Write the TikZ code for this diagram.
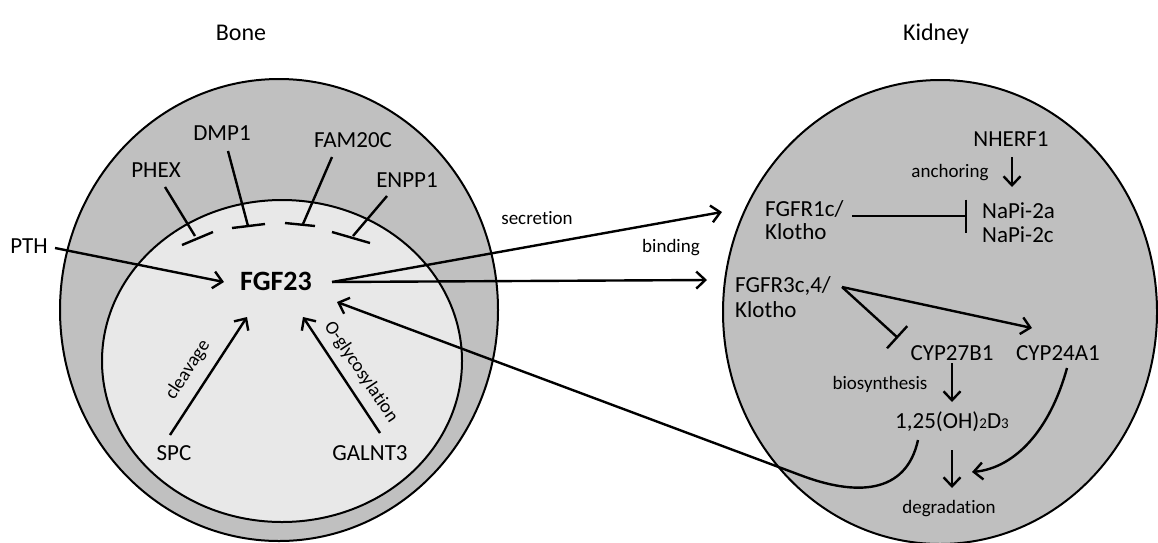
\documentclass[tikz,border=0pt]{standalone}
\usepackage{fontspec}
\setmainfont[Ligatures={NoCommon}]{Carlito}
\usetikzlibrary{arrows.meta}
\definecolor{outerg}{HTML}{C0C0C0}
\definecolor{innerg}{HTML}{E8E8E8}
\definecolor{kidg}{HTML}{BFBFBF}
\begin{document}
\begin{tikzpicture}[x=1pt,y=-1pt,
  lbl/.style={font=\fontsize{23}{26}\selectfont, inner sep=0pt, anchor=base},
  sm/.style={font=\fontsize{19}{22}\selectfont, inner sep=0pt, anchor=base},
  conn/.style={line width=2.4pt},
  arr/.style={conn, -{Straight Barb[length=9pt,width=17pt,line width=2.4pt]}},
  inh/.style={conn, -{Bar[width=33pt,line width=2.4pt]}},
  rim/.style={line width=2pt},
]
\useasboundingbox (0,0) rectangle (1158,542);

% compartments
\draw[rim, fill=outerg] (279,310) ellipse [x radius=219pt, y radius=231pt];
\draw[rim, fill=innerg] (282,361) ellipse [x radius=180pt, y radius=161pt];
\draw[rim, fill=kidg] (940,312) ellipse [x radius=217pt, y radius=232pt];

% titles
\node[lbl, font=\fontsize{24}{26}\selectfont] (bone) at (241,40) {Bone};
\node[lbl, font=\fontsize{24}{26}\selectfont] (kidney) at (936,40) {Kidney};

% bone labels
\node[lbl] (phex) at (156,177) {PHEX};
\node[lbl] (dmp) at (222,140) {DMP1};
\node[lbl] (fam) at (353,147) {FAM20C};
\node[lbl] (enpp) at (407,187) {ENPP1};
\node[lbl] (pth) at (29,253) {PTH};
\node[font=\fontsize{28}{30}\selectfont\bfseries, inner sep=0pt, anchor=base] (fgf) at (276,290) {FGF23};
\node[lbl] (spc) at (174,460) {SPC};
\node[lbl] (galnt) at (370,460) {GALNT3};
\node[sm, anchor=center, rotate=57] (clv) at (188,370) {cleavage};
\node[sm, anchor=center, rotate=-56] (oglc) at (361,372) {O-glycosylation};

% inhibitor bars at the membrane
\coordinate (bPa) at (182,245); \coordinate (bPb) at (213,232); \coordinate (bP) at (195,236);
\coordinate (bDa) at (232,228); \coordinate (bDb) at (265,224); \coordinate (bD) at (248,226);
\coordinate (bFa) at (285,223); \coordinate (bFb) at (315,226); \coordinate (bF) at (303,224);
\coordinate (bEa) at (332,232); \coordinate (bEb) at (370,243); \coordinate (bE) at (353,236);
\coordinate (sP) at (165,187); \coordinate (sD) at (228,151);
\coordinate (sF) at (332,157); \coordinate (sE) at (387,196);
\draw[conn] (sP) -- (bP);  \draw[conn] (bPa) -- (bPb);
\draw[conn] (sD) -- (bD);  \draw[conn] (bDa) -- (bDb);
\draw[conn] (sF) -- (bF);  \draw[conn] (bFa) -- (bFb);
\draw[conn] (sE) -- (bE);  \draw[conn] (bEa) -- (bEb);

% arrows in bone
\coordinate (pthE) at (55,248);
\coordinate (fgfW) at (224,282);
\coordinate (fgfE) at (332,282);
\coordinate (fgfS1) at (247,317);
\coordinate (fgfS2) at (303,317);
\coordinate (fgfSE) at (337,302);
\coordinate (spcN) at (170,435);
\coordinate (galN) at (380,433);
\draw[arr] (pthE) -- (fgfW);
\draw[arr] (spcN) -- (fgfS1);
\draw[arr] (galN) -- (fgfS2);

% kidney labels
\node[lbl] (nherf) at (1011,146) {NHERF1};
\node[sm] (anch) at (950,177) {anchoring};
\node[lbl, anchor=base west] (r1a) at (765,216) {FGFR1c/};
\node[lbl, anchor=base west] (r1b) at (765,239) {Klotho};
\node[lbl, anchor=base west] (na) at (982,218) {NaPi-2a};
\node[lbl, anchor=base west] (nc) at (982,242) {NaPi-2c};
\node[lbl, anchor=base west] (r3a) at (735,292) {FGFR3c,4/};
\node[lbl, anchor=base west] (r3b) at (735,317) {Klotho};
\node[lbl] (c27) at (952,360) {CYP27B1};
\node[lbl] (c24) at (1058,360) {CYP24A1};
\node[sm] (bios) at (880,389) {biosynthesis};
\node[lbl] (d3) at (952,428) {1,25(OH){\fontsize{15}{15}\selectfont 2}D{\fontsize{15}{15}\selectfont 3}};
\node[sm] (deg) at (949,513) {degradation};

% between organs
\node[sm] (sec) at (537,224) {secretion};
\node[sm] (bind) at (671,252) {binding};
\coordinate (r1W) at (722,212);
\coordinate (r3W) at (707,280);
\draw[arr] (fgfE) -- (r1W);
\draw[arr] (fgfE) -- (r3W);

% kidney connectors
\coordinate (nhS) at (1012,157); \coordinate (naN) at (1012,187);
\draw[arr] (nhS) -- (naN);
\coordinate (r1E) at (852,216); \coordinate (naW) at (967,216);
\draw[inh] (r1E) -- (naW);
\coordinate (r3E) at (842,287);
\coordinate (c24N) at (1032,328);
\coordinate (c27NW) at (898,338);
\draw[arr] (r3E) -- (c24N);
\draw[conn, -{Bar[width=30pt,line width=2.4pt]}] (r3E) -- (c27NW);
\coordinate (c27S) at (952,363); \coordinate (d3N) at (952,402);
\draw[arr] (c27S) -- (d3N);
\coordinate (d3S) at (952,450); \coordinate (degN) at (952,488);
\draw[arr] (d3S) -- (degN);
\coordinate (c24S) at (1067,368); \coordinate (degE) at (972,472);
\draw[arr] (c24S) .. controls (1050,430) and (1015,468) .. (degE);
\coordinate (d3SW) at (918,440);
\draw[arr] (d3SW) .. controls (906,495) and (855,496) .. (800,475) -- (fgfSE);
\end{tikzpicture}
\end{document}
